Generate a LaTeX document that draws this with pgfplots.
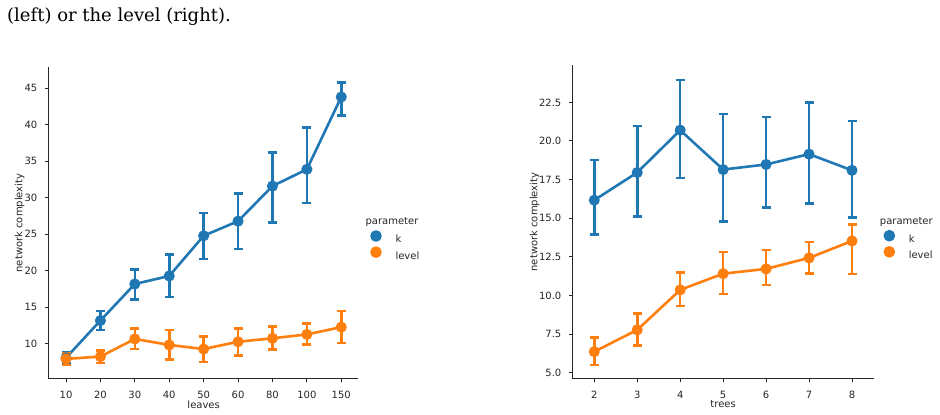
\documentclass[border=0pt]{standalone}
\usepackage{fontspec}
\setmainfont{DejaVu Sans}
\newfontfamily\bodyserif{DejaVu Serif}
\usepackage{pgfplots}
\usepackage{pgfplotstable}
\pgfplotsset{compat=1.18}

\definecolor{sbblue}{HTML}{1F77B4}
\definecolor{sborange}{HTML}{FF7F0E}
\definecolor{ink}{HTML}{262626}

% network complexity by number of leaves (category index, mean, CI low, CI high)
\pgfplotstableread{
x y lo hi
0 8.1 7.3 8.8
1 13.2 11.9 14.5
2 18.2 16.1 20.2
3 19.3 16.4 22.2
4 24.8 21.6 27.9
5 26.8 23.0 30.6
6 31.6 26.6 36.2
7 33.9 29.3 39.6
8 43.8 41.3 45.8
}\leavesK
\pgfplotstableread{
x y lo hi
0 7.95 7.1 8.7
1 8.27 7.4 9.1
2 10.68 9.3 12.1
3 9.86 7.9 11.9
4 9.3 7.5 11.0
5 10.3 8.4 12.1
6 10.77 9.2 12.4
7 11.3 9.9 12.8
8 12.3 10.1 14.5
}\leavesLevel

% network complexity by number of trees
\pgfplotstableread{
x y lo hi
2 16.17 13.94 18.76
3 17.96 15.13 20.96
4 20.70 17.60 23.94
5 18.15 14.79 21.74
6 18.48 15.70 21.56
7 19.15 15.95 22.50
8 18.10 15.04 21.30
}\treesK
\pgfplotstableread{
x y lo hi
2 6.36 5.50 7.27
3 7.77 6.77 8.82
4 10.36 9.32 11.48
5 11.41 10.10 12.82
6 11.72 10.68 12.95
7 12.43 11.41 13.47
8 13.53 11.38 14.61
}\treesLevel

\pgfplotsset{
  chart/.style={
    scale only axis, clip=false,
    axis x line*=bottom, axis y line*=left,
    axis line style={line width=1pt, color=ink},
    every tick/.style={line width=1pt, color=ink},
    tick align=outside, major tick length=3.5pt,
    ticklabel style={font=\fontsize{10}{12}\selectfont, text=ink, inner sep=0pt},
    xticklabel style={yshift=-8.3pt},
    yticklabel style={xshift=-7.8pt},
    label style={font=\fontsize{10}{12}\selectfont, text=ink, inner sep=0pt},
    /pgf/number format/assume math mode=true,
    error bars/y dir=both, error bars/y explicit,
    error bars/error bar style={line width=2.6pt, solid},
    error bars/error mark options={rotate=90, line width=2.6pt, mark size=4.5pt, solid},
    legend style={draw=none, fill=none, inner sep=0pt, outer sep=0pt,
      row sep=0pt, column sep=0pt, font=\fontsize{10}{12}\selectfont,
      text=ink, nodes={inner sep=0pt}},
    legend cell align=left,
    legend image code/.code={%
      \path[draw=none, fill=none] (0pt,-4pt) rectangle (19.5pt,11.6pt);
      \draw[##1, only marks, mark size=4.5pt] plot coordinates {(0pt,3.8pt)};},
  },
  kser/.style={sbblue, line width=2.6pt, line join=round, mark=*, mark size=4.2pt,
    mark options={solid, draw=none, fill=sbblue}},
  lser/.style={sborange, line width=2.6pt, line join=round, mark=*, mark size=4.2pt,
    mark options={solid, draw=none, fill=sborange}},
}

\begin{document}
\begin{tikzpicture}
\useasboundingbox (0pt,0pt) rectangle (940pt,415pt);

\node[anchor=base west, inner sep=0pt, font=\bodyserif\fontsize{18}{20}\selectfont, text=black]
  at (7pt,393pt) {(left) or the level (right).};

% left panel: leaves
\begin{axis}[chart, at={(48.8pt,36pt)}, anchor=south west,
  width=309.7pt, height=312pt,
  xmin=-0.5, xmax=8.5, ymin=5.2, ymax=47.9,
  xtick={0,...,8}, xticklabels={10,20,30,40,50,60,80,100,150},
  ytick={10,15,20,25,30,35,40,45},
  xlabel={leaves}, ylabel={network complexity},
  xlabel style={at={(axis description cs:0.5,0)}, anchor=center, yshift=-25.3pt},
  ylabel style={at={(axis description cs:0,0.5)}, anchor=center, yshift=29.3pt},
  legend style={at={(1.042,0.4833)}, anchor=north west},
]
\addplot[kser] table[x=x, y=y, y error plus expr=\thisrow{hi}-\thisrow{y},
  y error minus expr=\thisrow{y}-\thisrow{lo}] {\leavesK};
\addlegendentry{k}
\addplot[lser] table[x=x, y=y, y error plus expr=\thisrow{hi}-\thisrow{y},
  y error minus expr=\thisrow{y}-\thisrow{lo}] {\leavesLevel};
\addlegendentry{level}
\end{axis}
\node[font=\fontsize{10}{12}\selectfont, text=ink, inner sep=0pt] at (392pt,193.3pt) {parameter};

% right panel: trees
\begin{axis}[chart, at={(572.8pt,36pt)}, anchor=south west,
  width=300.7pt, height=314pt,
  xmin=1.5, xmax=8.5, ymin=4.59, ymax=24.92,
  xtick={2,...,8},
  ytick={5,7.5,10,12.5,15,17.5,20,22.5},
  yticklabel style={/pgf/number format/.cd, fixed, fixed zerofill, precision=1},
  xlabel={trees}, ylabel={network complexity},
  xlabel style={at={(axis description cs:0.5,0)}, anchor=center, yshift=-25.3pt},
  ylabel style={at={(axis description cs:0,0.5)}, anchor=center, yshift=38.3pt},
  legend style={at={(1.0376,0.4812)}, anchor=north west},
]
\addplot[kser] table[x=x, y=y, y error plus expr=\thisrow{hi}-\thisrow{y},
  y error minus expr=\thisrow{y}-\thisrow{lo}] {\treesK};
\addlegendentry{k}
\addplot[lser] table[x=x, y=y, y error plus expr=\thisrow{hi}-\thisrow{y},
  y error minus expr=\thisrow{y}-\thisrow{lo}] {\treesLevel};
\addlegendentry{level}
\end{axis}
\node[font=\fontsize{10}{12}\selectfont, text=ink, inner sep=0pt] at (906.3pt,193.3pt) {parameter};
\end{tikzpicture}
\end{document}
